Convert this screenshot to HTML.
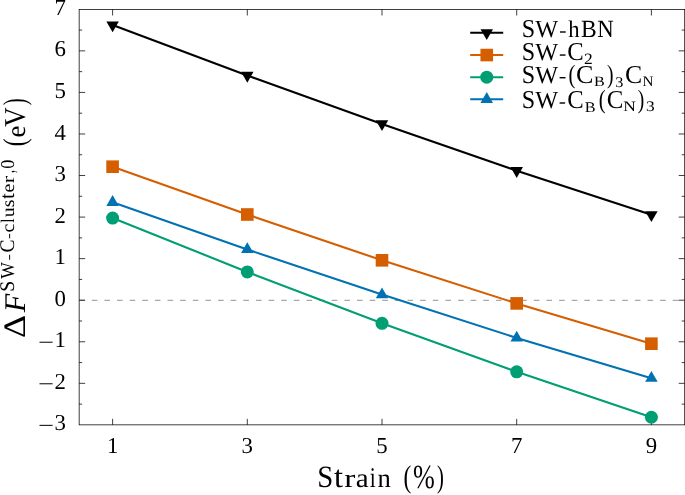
<!DOCTYPE html>
<html><head><meta charset="utf-8"><style>
html,body{margin:0;padding:0;background:#fff;}
body{width:685px;height:495px;overflow:hidden;font-family:"Liberation Serif",serif;}
svg{display:block;will-change:transform;text-rendering:geometricPrecision;}
text{fill:#000;}
</style></head><body>
<svg width="685" height="495" viewBox="0 0 685 495" font-family="Liberation Serif, serif"><line x1="79.15" y1="300.41" x2="684.70" y2="300.41" stroke="#a8a8a8" stroke-width="1.3" stroke-dasharray="5.6 7.03"/>
<path d="M79.15 383.33h6M684.70 383.33h-6M79.15 341.77h6M684.70 341.77h-6M79.15 300.21h6M684.70 300.21h-6M79.15 258.65h6M684.70 258.65h-6M79.15 217.09h6M684.70 217.09h-6M79.15 175.53h6M684.70 175.53h-6M79.15 133.97h6M684.70 133.97h-6M79.15 92.41h6M684.70 92.41h-6M79.15 50.85h6M684.70 50.85h-6M79.15 404.11h3M684.70 404.11h-3M79.15 362.55h3M684.70 362.55h-3M79.15 320.99h3M684.70 320.99h-3M79.15 279.43h3M684.70 279.43h-3M79.15 237.87h3M684.70 237.87h-3M79.15 196.31h3M684.70 196.31h-3M79.15 154.75h3M684.70 154.75h-3M79.15 113.19h3M684.70 113.19h-3M79.15 71.63h3M684.70 71.63h-3M79.15 30.07h3M684.70 30.07h-3M112.60 424.85v-6M112.60 9.50v6M247.30 424.85v-6M247.30 9.50v6M382.00 424.85v-6M382.00 9.50v6M516.70 424.85v-6M516.70 9.50v6M651.40 424.85v-6M651.40 9.50v6" stroke="#000" stroke-width="0.75" fill="none"/>
<polyline points="112.60,25.07 247.30,75.43 382.00,123.90 516.70,170.70 651.40,214.80" fill="none" stroke="#000000" stroke-width="2.1" stroke-linejoin="round"/>
<polygon points="112.60,32.27 106.36,21.47 118.84,21.47" fill="#000000"/>
<polygon points="247.30,82.63 241.06,71.83 253.54,71.83" fill="#000000"/>
<polygon points="382.00,131.10 375.76,120.30 388.24,120.30" fill="#000000"/>
<polygon points="516.70,177.90 510.46,167.10 522.94,167.10" fill="#000000"/>
<polygon points="651.40,222.00 645.16,211.20 657.64,211.20" fill="#000000"/>
<polyline points="112.60,166.70 247.30,214.50 382.00,260.30 516.70,303.40 651.40,343.70" fill="none" stroke="#D55E00" stroke-width="2.1" stroke-linejoin="round"/>
<rect x="106.30" y="160.40" width="12.6" height="12.6" fill="#D55E00"/>
<rect x="241.00" y="208.20" width="12.6" height="12.6" fill="#D55E00"/>
<rect x="375.70" y="254.00" width="12.6" height="12.6" fill="#D55E00"/>
<rect x="510.40" y="297.10" width="12.6" height="12.6" fill="#D55E00"/>
<rect x="645.10" y="337.40" width="12.6" height="12.6" fill="#D55E00"/>
<polyline points="112.60,218.05 247.30,271.95 382.00,323.35 516.70,371.85 651.40,417.25" fill="none" stroke="#009E73" stroke-width="2.1" stroke-linejoin="round"/>
<circle cx="112.60" cy="218.05" r="6.5" fill="#009E73"/>
<circle cx="247.30" cy="271.95" r="6.5" fill="#009E73"/>
<circle cx="382.00" cy="323.35" r="6.5" fill="#009E73"/>
<circle cx="516.70" cy="371.85" r="6.5" fill="#009E73"/>
<circle cx="651.40" cy="417.25" r="6.5" fill="#009E73"/>
<polyline points="112.60,202.30 247.30,249.50 382.00,294.60 516.70,337.90 651.40,378.20" fill="none" stroke="#0072B2" stroke-width="2.1" stroke-linejoin="round"/>
<polygon points="112.60,195.10 106.36,205.90 118.84,205.90" fill="#0072B2"/>
<polygon points="247.30,242.30 241.06,253.10 253.54,253.10" fill="#0072B2"/>
<polygon points="382.00,287.40 375.76,298.20 388.24,298.20" fill="#0072B2"/>
<polygon points="516.70,330.70 510.46,341.50 522.94,341.50" fill="#0072B2"/>
<polygon points="651.40,371.00 645.16,381.80 657.64,381.80" fill="#0072B2"/>
<rect x="79.15" y="9.50" width="605.55" height="415.35" fill="none" stroke="#000" stroke-width="0.75"/>
<line x1="470.2" y1="32.8" x2="503.2" y2="32.8" stroke="#000000" stroke-width="2.1"/>
<polygon points="486.75,40.00 480.51,29.20 492.99,29.20" fill="#000000"/>
<line x1="470.2" y1="55.05" x2="503.2" y2="55.05" stroke="#D55E00" stroke-width="2.1"/>
<rect x="480.45" y="48.75" width="12.6" height="12.6" fill="#D55E00"/>
<line x1="470.2" y1="77.2" x2="503.2" y2="77.2" stroke="#009E73" stroke-width="2.1"/>
<circle cx="486.75" cy="77.20" r="6.5" fill="#009E73"/>
<line x1="470.2" y1="99.3" x2="503.2" y2="99.3" stroke="#0072B2" stroke-width="2.1"/>
<polygon points="486.75,92.10 480.51,102.90 492.99,102.90" fill="#0072B2"/>
<text transform="translate(521.64,37.27) scale(1.2054,1.2876)" font-size="20">S</text>
<text transform="translate(535.33,36.87) scale(1.2116,1.2310)" font-size="20">W</text>
<rect x="560.00" y="31.30" width="5.70" height="1.4" fill="#000"/>
<text transform="translate(568.13,37.00) scale(1.1320,1.1903)" font-size="20">h</text>
<text transform="translate(581.07,36.93) scale(1.1793,1.2357)" font-size="20">B</text>
<text transform="translate(597.19,37.00) scale(1.1411,1.2413)" font-size="20">N</text>
<text transform="translate(521.64,60.32) scale(1.2054,1.2876)" font-size="20">S</text>
<text transform="translate(535.33,59.92) scale(1.2116,1.2310)" font-size="20">W</text>
<rect x="559.80" y="54.35" width="5.70" height="1.4" fill="#000"/>
<text transform="translate(567.24,60.32) scale(1.2351,1.2876)" font-size="20">C</text>
<text transform="translate(583.88,63.85) scale(0.8731,0.7854)" font-size="20">2</text>
<text transform="translate(521.64,82.97) scale(1.2054,1.2876)" font-size="20">S</text>
<text transform="translate(535.33,82.57) scale(1.2116,1.2310)" font-size="20">W</text>
<rect x="559.60" y="77.00" width="5.90" height="1.4" fill="#000"/>
<text transform="translate(568.54,83.06) scale(1.0318,1.3124)" font-size="20">(</text>
<text transform="translate(575.98,82.97) scale(1.3052,1.2876)" font-size="20">C</text>
<text transform="translate(593.89,86.11) scale(0.8060,0.7070)" font-size="20">B</text>
<text transform="translate(607.12,83.06) scale(0.9734,1.3124)" font-size="20">)</text>
<text transform="translate(615.37,86.51) scale(0.8110,0.7367)" font-size="20">3</text>
<text transform="translate(625.09,82.97) scale(1.2877,1.2876)" font-size="20">C</text>
<text transform="translate(642.41,85.95) scale(0.7607,0.7331)" font-size="20">N</text>
<text transform="translate(521.64,108.27) scale(1.2054,1.2876)" font-size="20">S</text>
<text transform="translate(535.33,107.87) scale(1.2116,1.2310)" font-size="20">W</text>
<rect x="559.60" y="102.30" width="5.50" height="1.4" fill="#000"/>
<text transform="translate(567.24,108.27) scale(1.2351,1.2876)" font-size="20">C</text>
<text transform="translate(584.78,111.51) scale(0.8144,0.7374)" font-size="20">B</text>
<text transform="translate(598.64,108.36) scale(1.0318,1.3124)" font-size="20">(</text>
<text transform="translate(606.73,108.27) scale(1.2439,1.2876)" font-size="20">C</text>
<text transform="translate(623.35,111.25) scale(0.8726,0.7178)" font-size="20">N</text>
<text transform="translate(637.82,108.36) scale(0.9734,1.3124)" font-size="20">)</text>
<text transform="translate(645.92,111.21) scale(0.8715,0.7293)" font-size="20">3</text>
<text x="112.60" y="452.9" font-size="22.8" text-anchor="middle">1</text>
<text x="247.30" y="452.9" font-size="22.8" text-anchor="middle">3</text>
<text x="382.00" y="452.9" font-size="22.8" text-anchor="middle">5</text>
<text x="516.70" y="452.9" font-size="22.8" text-anchor="middle">7</text>
<text x="651.40" y="452.9" font-size="22.8" text-anchor="middle">9</text>
<text x="60.3" y="430.44" font-size="22.8" text-anchor="middle">3</text>
<rect x="39.5" y="424.84" width="13.1" height="1.0" fill="#000"/>
<text x="60.3" y="388.88" font-size="22.8" text-anchor="middle">2</text>
<rect x="39.5" y="383.28" width="13.1" height="1.0" fill="#000"/>
<text x="60.3" y="347.32" font-size="22.8" text-anchor="middle">1</text>
<rect x="39.5" y="341.72" width="13.1" height="1.0" fill="#000"/>
<text x="60.3" y="305.76" font-size="22.8" text-anchor="middle">0</text>
<text x="60.3" y="264.20" font-size="22.8" text-anchor="middle">1</text>
<text x="60.3" y="222.64" font-size="22.8" text-anchor="middle">2</text>
<text x="60.3" y="181.08" font-size="22.8" text-anchor="middle">3</text>
<text x="60.3" y="139.52" font-size="22.8" text-anchor="middle">4</text>
<text x="60.3" y="97.96" font-size="22.8" text-anchor="middle">5</text>
<text x="60.3" y="56.40" font-size="22.8" text-anchor="middle">6</text>
<text x="60.3" y="14.84" font-size="22.8" text-anchor="middle">7</text>
<text transform="translate(317.32,487.33) scale(1.4395,1.5419)" font-size="20">S</text>
<text transform="translate(333.93,487.01) scale(1.6209,1.5575)" font-size="20">t</text>
<text transform="translate(344.29,487.00) scale(1.6601,1.3035)" font-size="20">r</text>
<text transform="translate(355.73,487.05) scale(1.4556,1.3655)" font-size="20">a</text>
<text transform="translate(369.80,487.00) scale(1.0724,1.4398)" font-size="20">i</text>
<text transform="translate(377.54,487.00) scale(1.3314,1.3367)" font-size="20">n</text>
<text transform="translate(403.42,487.43) scale(1.1681,1.5716)" font-size="20">(</text>
<text transform="translate(413.06,488.15) scale(1.3078,1.6935)" font-size="20">%</text>
<text transform="translate(436.98,487.43) scale(1.0318,1.5716)" font-size="20">)</text>
<g transform="rotate(-90)"><text transform="translate(-337.92,24.60) scale(1.7977,1.5618)" font-size="20">Δ</text><text transform="translate(-312.19,24.60) scale(1.5212,1.5020)" font-size="20" font-style="italic">F</text><text transform="translate(-291.87,14.37) scale(0.9830,1.0388)" font-size="20">S</text><text transform="translate(-278.77,14.04) scale(0.8821,0.9931)" font-size="20">W</text><rect x="-259.75" y="9.16" width="5.00" height="0.96" fill="#000"/><text transform="translate(-252.45,14.37) scale(0.9723,1.0388)" font-size="20">C</text><rect x="-238.35" y="9.16" width="4.50" height="0.96" fill="#000"/><text transform="translate(-232.50,14.18) scale(0.9867,0.9162)" font-size="20">c</text><text transform="translate(-222.75,14.15) scale(0.7570,0.9602)" font-size="20">l</text><text transform="translate(-217.21,14.18) scale(0.9899,0.9052)" font-size="20">u</text><text transform="translate(-207.27,14.18) scale(0.9936,0.9162)" font-size="20">s</text><text transform="translate(-199.05,14.16) scale(1.0488,1.0492)" font-size="20">t</text><text transform="translate(-192.53,14.18) scale(0.9997,0.9162)" font-size="20">e</text><text transform="translate(-183.20,14.15) scale(1.1341,0.8781)" font-size="20">r</text><text transform="translate(-172.88,14.43) scale(0.5708,1.1213)" font-size="20">,</text><text transform="translate(-168.64,14.38) scale(0.9084,0.9788)" font-size="20">0</text><text transform="translate(-146.28,25.04) scale(1.1681,1.5881)" font-size="20">(</text><text transform="translate(-137.39,24.65) scale(1.3374,1.3743)" font-size="20">e</text><text transform="translate(-126.65,24.77) scale(1.3434,1.5154)" font-size="20">V</text><text transform="translate(-105.33,25.04) scale(1.0513,1.5881)" font-size="20">)</text></g></svg>
</body></html>
